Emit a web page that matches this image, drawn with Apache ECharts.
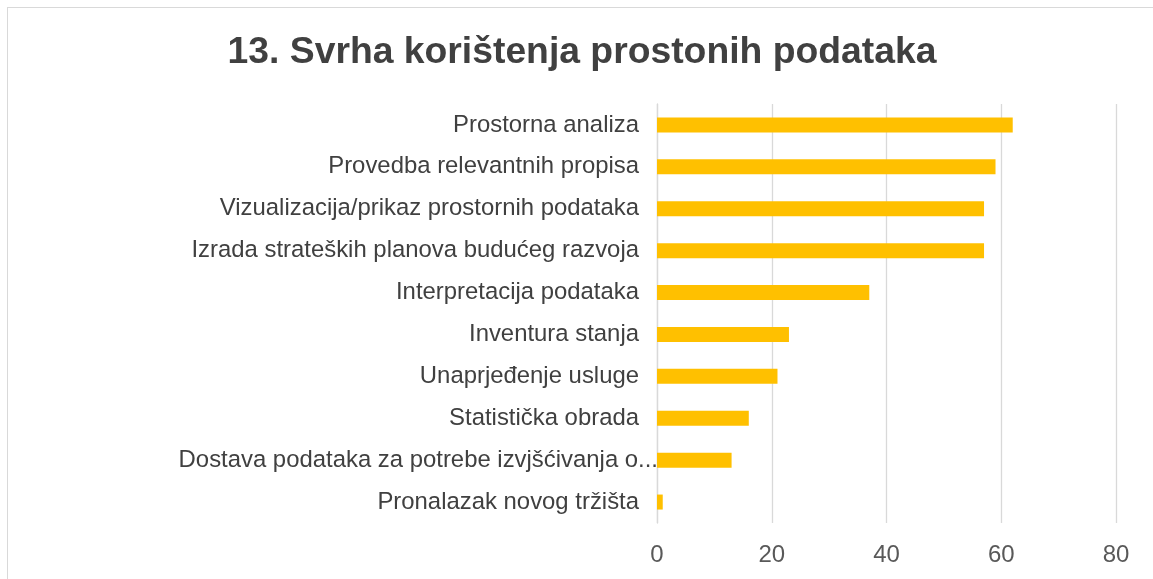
<!DOCTYPE html>
<html>
<head>
<meta charset="utf-8">
<script src="https://cdn.jsdelivr.net/npm/echarts@6/dist/echarts.min.js"></script>
<style>
  html, body { margin: 0; padding: 0; background: #ffffff; overflow: hidden; }
  #frame { position: absolute; left: 7px; top: 7px; width: 1170px; height: 600px; border: 1px solid #d9d9d9; box-sizing: border-box; }
  #chart { position: absolute; left: 0; top: 0; width: 1153px; height: 579px; }
</style>
</head>
<body>
<div id="frame"></div>
<div id="chart"></div>
<script>
const titleText = "13. Svrha korištenja prostonih podataka";
const categories = [
  "Prostorna analiza",
  "Provedba relevantnih propisa",
  "Vizualizacija/prikaz prostornih podataka",
  "Izrada strateških planova budućeg razvoja",
  "Interpretacija podataka",
  "Inventura stanja",
  "Unaprjeđenje usluge",
  "Statistička obrada",
  "Dostava podataka za potrebe izvjšćivanja o...",
  "Pronalazak novog tržišta"
];
const values = [62, 59, 57, 57, 37, 23, 21, 16, 13, 1];
const axisMin = 0;
const axisMax = 80;
const axisStep = 20;
const truncatedLabel = "Dostava podataka za potrebe izvjšćivanja o...";

const categoryItems = categories.map(function (c) {
  return c === truncatedLabel
    ? { value: c, textStyle: { padding: [0, -19, 0, 0] } }
    : c;
});

const chart = echarts.init(document.getElementById('chart'), null, { renderer: 'canvas' });
chart.setOption({
  backgroundColor: 'transparent',
  animation: false,
  title: {
    text: titleText,
    left: 577,
    textAlign: 'center',
    top: 29,
    textStyle: {
      fontFamily: 'Liberation Sans, Arial, sans-serif',
      fontSize: 37.3,
      fontWeight: 'bold',
      color: '#404040'
    }
  },
  grid: { left: 657, right: 37, top: 104, bottom: 56, containLabel: false },
  xAxis: {
    type: 'value',
    min: axisMin,
    max: axisMax,
    interval: axisStep,
    axisLine: { show: false },
    axisTick: { show: false },
    splitLine: { show: true, lineStyle: { color: '#d9d9d9', width: 1.3 } },
    axisLabel: {
      margin: 20,
      fontFamily: 'Liberation Sans, Arial, sans-serif',
      fontSize: 24,
      color: '#595959'
    }
  },
  yAxis: {
    type: 'category',
    inverse: true,
    data: categoryItems,
    axisLine: { show: true, lineStyle: { color: '#d9d9d9', width: 1.3 } },
    axisTick: { show: false },
    axisLabel: {
      margin: 18,
      fontFamily: 'Liberation Sans, Arial, sans-serif',
      fontSize: 23.9,
      color: '#404040'
    }
  },
  series: [{
    type: 'bar',
    data: values,
    barWidth: 15,
    itemStyle: { color: '#FFC000' }
  }]
});
</script>
</body>
</html>
